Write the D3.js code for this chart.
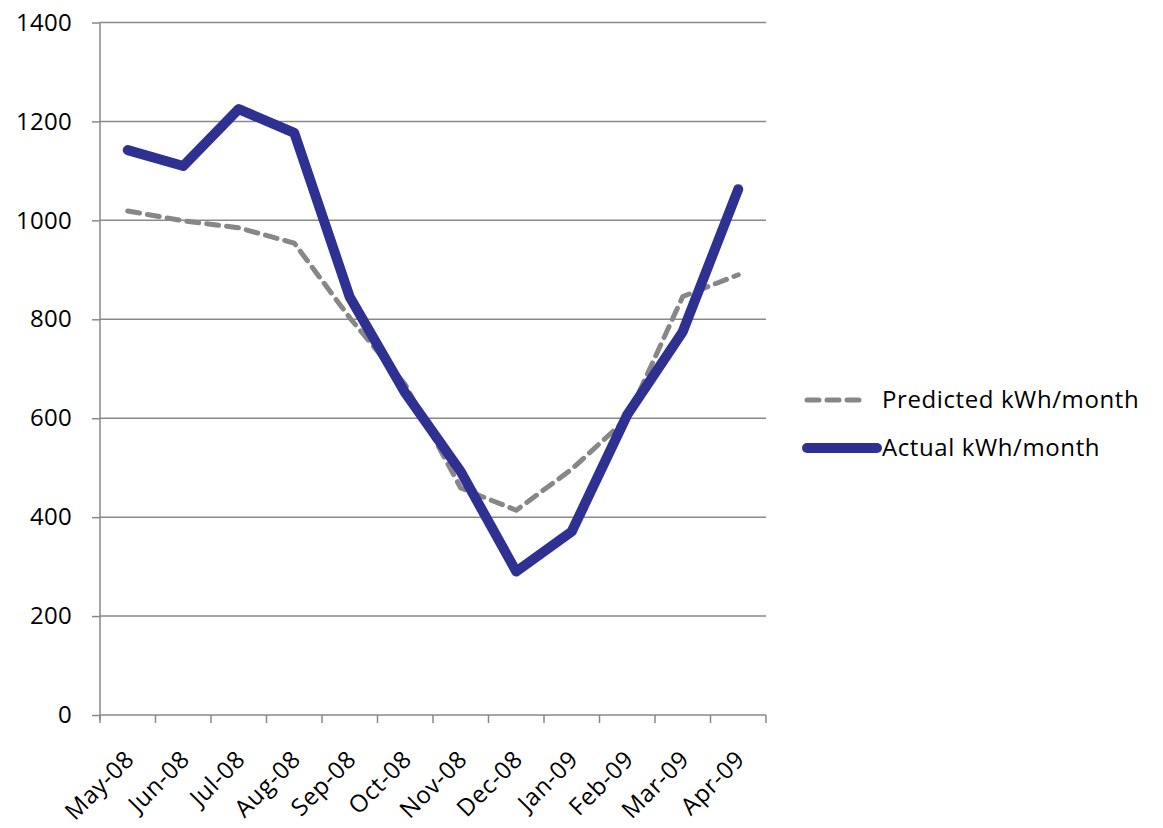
<!DOCTYPE html>
<html>
<head>
<meta charset="utf-8">
<script src="https://cdn.jsdelivr.net/npm/d3@7"></script>
<style>
  html, body { margin: 0; padding: 0; background: #ffffff; }
  svg { display: block; }
  text { font-family: "Open Sans", sans-serif; fill: #000; }
</style>
</head>
<body>
<svg id="chart" width="1163" height="828"></svg>
<script>
// Monthly energy use, May 2008 – April 2009
const months = ["May-08", "Jun-08", "Jul-08", "Aug-08", "Sep-08", "Oct-08",
                "Nov-08", "Dec-08", "Jan-09", "Feb-09", "Mar-09", "Apr-09"];
const predicted = [1019, 999, 985, 954, 803, 668, 459, 414, 497, 600, 846, 890];
const actual    = [1142, 1110, 1225, 1177, 845, 651, 492, 290, 371, 607, 775, 1063];
const yTicks = [0, 200, 400, 600, 800, 1000, 1200, 1400];
const seriesNames = ["Predicted kWh/month", "Actual kWh/month"];

const FONT = "Open Sans, sans-serif";
const FS = 24;

const svg = d3.select("#chart");
const plot = { left: 100, right: 766, top: 22.5, bottom: 715 };

const x = d3.scaleBand().domain(months).range([plot.left, plot.right]);
const y = d3.scaleLinear().domain([0, 1400]).range([plot.bottom, plot.top]);

const gridColor = "#898989";

// horizontal gridlines
svg.append("g")
  .selectAll("line")
  .data(yTicks.filter(d => d > 0))
  .join("line")
  .attr("x1", plot.left).attr("x2", plot.right)
  .attr("y1", d => y(d)).attr("y2", d => y(d))
  .attr("stroke", gridColor).attr("stroke-width", 1.5);

// y axis
const yAxis = svg.append("g")
  .attr("transform", `translate(${plot.left},0)`)
  .call(d3.axisLeft(y).tickValues(yTicks).tickSize(8).tickPadding(20).tickFormat(d3.format("d")));
yAxis.select(".domain").attr("stroke", gridColor).attr("stroke-width", 1.5)
  .attr("d", `M0,${plot.top}V${plot.bottom + 5}`);
yAxis.selectAll(".tick line").attr("stroke", gridColor).attr("stroke-width", 1.5);
yAxis.selectAll(".tick text").attr("font-size", FS).attr("font-family", FONT)
  .attr("letter-spacing", 0.3).attr("fill", "#000");

// x axis: ticks at the band boundaries
const xAxisG = svg.append("g").attr("transform", `translate(0,${plot.bottom})`);
xAxisG.append("line")
  .attr("x1", plot.left).attr("x2", plot.right)
  .attr("stroke", gridColor).attr("stroke-width", 1.5);
const boundaries = months.map(m => x(m)).concat([plot.right]);
xAxisG.selectAll("line.tick")
  .data(boundaries)
  .join("line")
  .attr("class", "tick")
  .attr("x1", d => d).attr("x2", d => d)
  .attr("y1", 0).attr("y2", 8)
  .attr("stroke", gridColor).attr("stroke-width", 1.5);
xAxisG.selectAll("text")
  .data(months)
  .join("text")
  .attr("transform", d => `translate(${x(d) + x.bandwidth() / 2 + 2},${40}) rotate(-45)`)
  .attr("text-anchor", "end")
  .attr("dy", "0.35em")
  .attr("font-size", FS)
  .attr("font-family", FONT)
  .attr("letter-spacing", 0.6)
  .text(d => d);

const cx = d => x(d) + x.bandwidth() / 2;
const line = d3.line().x(d => cx(d.m)).y(d => y(d.v));

// predicted series (dashed grey)
svg.append("path")
  .datum(months.map((m, i) => ({ m, v: predicted[i] })))
  .attr("d", line)
  .attr("fill", "none")
  .attr("stroke", "#878787")
  .attr("stroke-width", 5)
  .attr("stroke-dasharray", "12,8")
  .attr("stroke-linecap", "round")
  .attr("stroke-linejoin", "round");

// actual series (solid blue)
svg.append("path")
  .datum(months.map((m, i) => ({ m, v: actual[i] })))
  .attr("d", line)
  .attr("fill", "none")
  .attr("stroke", "#2e3192")
  .attr("stroke-width", 10)
  .attr("stroke-linecap", "round")
  .attr("stroke-linejoin", "round");

// legend
const legend = svg.append("g");
legend.append("line")
  .attr("x1", 807).attr("x2", 865).attr("y1", 400).attr("y2", 400)
  .attr("stroke", "#878787").attr("stroke-width", 5)
  .attr("stroke-dasharray", "12,8").attr("stroke-linecap", "round");
legend.append("text").attr("x", 882).attr("y", 400).attr("dy", "0.35em")
  .attr("font-size", FS).attr("font-family", FONT).attr("letter-spacing", 0.6)
  .text(seriesNames[0]);
legend.append("line")
  .attr("x1", 807).attr("x2", 877).attr("y1", 448).attr("y2", 448)
  .attr("stroke", "#2e3192").attr("stroke-width", 10).attr("stroke-linecap", "round");
legend.append("text").attr("x", 882).attr("y", 448).attr("dy", "0.35em")
  .attr("font-size", FS).attr("font-family", FONT).attr("letter-spacing", 0.6)
  .text(seriesNames[1]);
</script>
</body>
</html>
